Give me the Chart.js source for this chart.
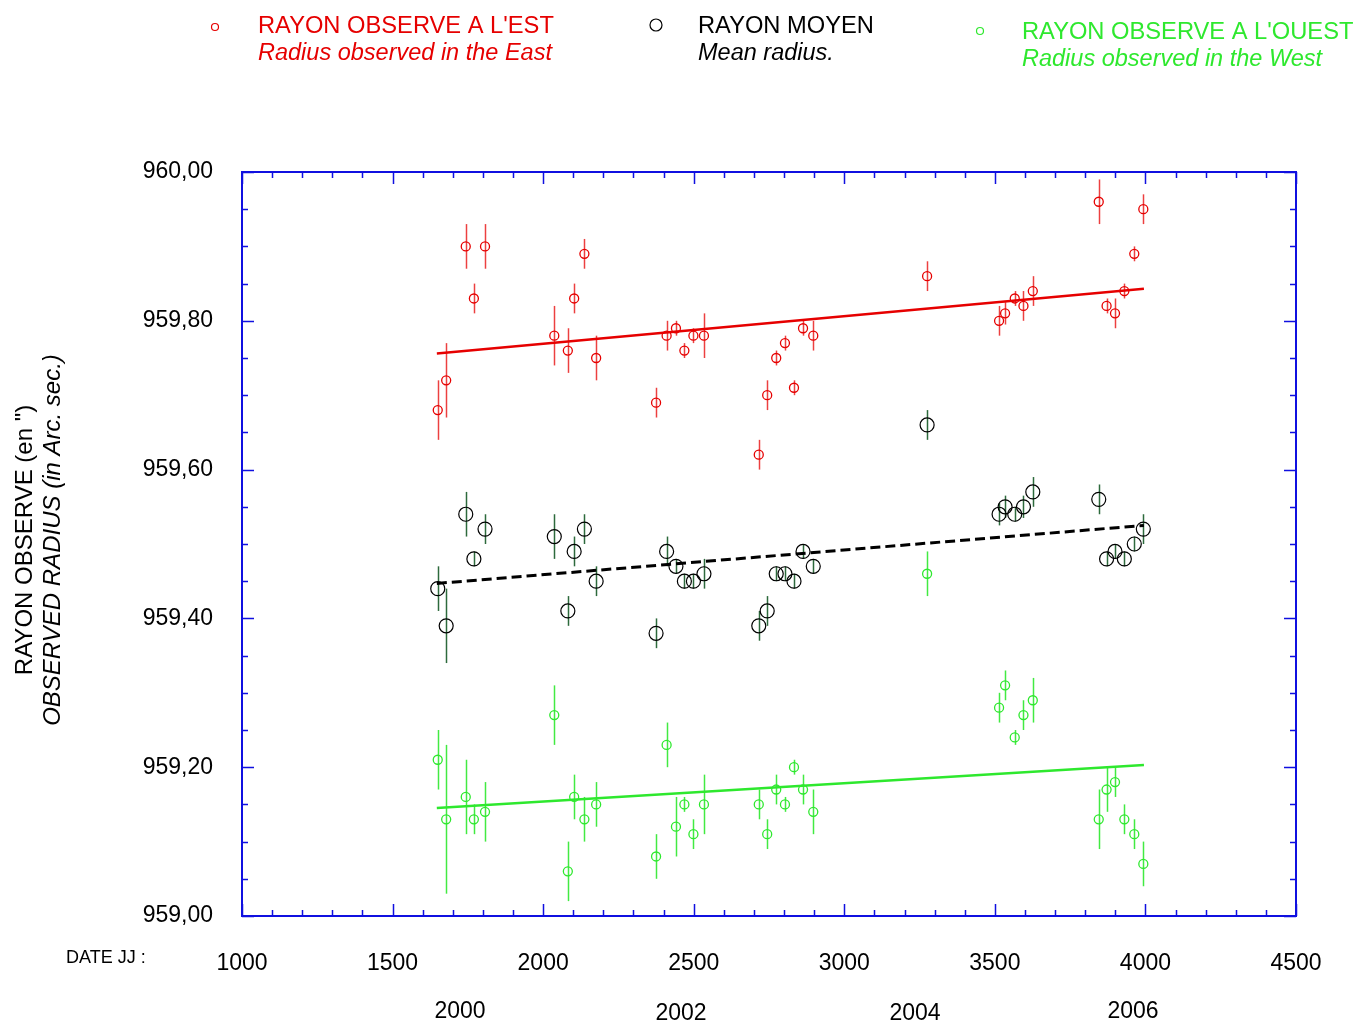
<!DOCTYPE html>
<html>
<head>
<meta charset="utf-8">
<script src="https://cdn.jsdelivr.net/npm/chart.js@4/dist/chart.umd.min.js"></script>
<style>
  body { margin: 0; background: #fff; }
  #wrap { width: 1357px; height: 1023px; }
</style>
</head>
<body>
<div id="wrap"><canvas id="radiusChart" width="1357" height="1023"></canvas></div>
<script>
// julian day offsets (JJ - 2450000) of each observation
const days = [1650, 1678, 1743, 1770, 1807, 2037, 2082, 2103, 2137, 2176,
  2375, 2410, 2441, 2469, 2499, 2534, 2716, 2744, 2774, 2803, 2833, 2863, 2897,
  3275, 3514, 3534, 3566, 3595, 3626, 3845, 3871, 3899, 3930, 3963, 3993];

const eastRadius = [959.68, 959.72, 959.90, 959.83, 959.90, 959.78, 959.76, 959.83, 959.89, 959.75,
  959.69, 959.78, 959.79, 959.76, 959.78, 959.78, 959.62, 959.70, 959.75, 959.77, 959.71, 959.79, 959.78,
  959.86, 959.80, 959.81, 959.83, 959.82, 959.84, 959.96, 959.82, 959.81, 959.84, 959.89, 959.95];
const eastErr = [0.04, 0.05, 0.03, 0.02, 0.03, 0.04, 0.03, 0.02, 0.02, 0.03,
  0.02, 0.02, 0.01, 0.01, 0.01, 0.03, 0.02, 0.02, 0.01, 0.01, 0.01, 0.01, 0.02,
  0.02, 0.02, 0.015, 0.01, 0.02, 0.02, 0.03, 0.01, 0.02, 0.01, 0.01, 0.02];

const meanRadius = [959.44, 959.39, 959.54, 959.48, 959.52, 959.51, 959.41, 959.49, 959.52, 959.45,
  959.38, 959.49, 959.47, 959.45, 959.45, 959.46, 959.39, 959.41, 959.46, 959.46, 959.45, 959.49, 959.47,
  959.66, 959.54, 959.55, 959.54, 959.55, 959.57, 959.56, 959.48, 959.49, 959.48, 959.50, 959.52];
const meanErr = [0.03, 0.05, 0.03, 0.01, 0.02, 0.03, 0.02, 0.02, 0.02, 0.02,
  0.02, 0.02, 0.01, 0.01, 0.01, 0.02, 0.02, 0.02, 0.01, 0.01, 0.01, 0.01, 0.01,
  0.02, 0.015, 0.015, 0.01, 0.015, 0.02, 0.02, 0.01, 0.01, 0.01, 0.01, 0.02];

const westRadius = [959.21, 959.13, 959.16, 959.13, 959.14, 959.27, 959.06, 959.16, 959.13, 959.15,
  959.08, 959.23, 959.12, 959.15, 959.11, 959.15, 959.15, 959.11, 959.17, 959.15, 959.20, 959.17, 959.14,
  959.46, 959.28, 959.31, 959.24, 959.27, 959.29, 959.13, 959.17, 959.18, 959.13, 959.11, 959.07];
const westErr = [0.04, 0.10, 0.05, 0.02, 0.04, 0.04, 0.04, 0.03, 0.03, 0.03,
  0.03, 0.03, 0.04, 0.01, 0.02, 0.04, 0.02, 0.02, 0.02, 0.01, 0.01, 0.02, 0.03,
  0.03, 0.02, 0.02, 0.01, 0.02, 0.03, 0.04, 0.03, 0.02, 0.02, 0.02, 0.03];

// linear fits, endpoints
const fitDays = [1647, 3995];
const eastFit = [959.756, 959.843];
const meanFit = [959.447, 959.525];
const westFit = [959.145, 959.203];

// calendar years placed along the JJ axis
const yearLabels = ["2000", "2002", "2004", "2006"];
const yearDays = [1724, 2458, 3235, 3959];

const RED = "#e60000";
const GREEN = "#2ee82e";
const BLUE = "#1010e0";
const FONT = "'Liberation Sans', Arial, sans-serif";

const pts = (xs, ys) => xs.map((x, i) => ({ x: x, y: ys[i] }));

// error bars, axis frame with inner ticks, legend block and extra labels
const decorations = {
  id: "decorations",
  beforeDatasetsDraw(chart) {
    const c = chart.ctx, xs = chart.scales.x, ys = chart.scales.y;
    const bars = [
      [eastRadius, eastErr, "rgba(230,0,0,0.75)"],
      [meanRadius, meanErr, "#2d6a3c"],
      [westRadius, westErr, "rgba(46,232,46,0.9)"]
    ];
    c.save();
    c.lineWidth = 1.5;
    bars.forEach(([vals, errs, col]) => {
      c.strokeStyle = col;
      days.forEach((d, i) => {
        const px = Math.round(xs.getPixelForValue(d)) + 0.5;
        c.beginPath();
        c.moveTo(px, ys.getPixelForValue(vals[i] + errs[i]));
        c.lineTo(px, ys.getPixelForValue(vals[i] - errs[i]));
        c.stroke();
      });
    });
    c.restore();
  },
  afterDraw(chart) {
    const c = chart.ctx, xs = chart.scales.x, ys = chart.scales.y;
    const a = chart.chartArea;
    c.save();
    // frame
    c.strokeStyle = BLUE;
    c.lineWidth = 2;
    c.strokeRect(a.left, a.top, a.right - a.left, a.bottom - a.top);
    // inner ticks
    c.lineWidth = 1.5;
    c.beginPath();
    for (let v = 1000; v <= 4500; v += 100) {
      const px = Math.round(xs.getPixelForValue(v)) + 0.5;
      const len = v % 500 === 0 ? 12 : 6;
      c.moveTo(px, a.bottom); c.lineTo(px, a.bottom - len);
      c.moveTo(px, a.top); c.lineTo(px, a.top + len);
    }
    for (let k = 0; k <= 20; k++) {
      const v = 959 + k * 0.05;
      const py = Math.round(ys.getPixelForValue(v)) + 0.5;
      const len = k % 4 === 0 ? 12 : 6;
      c.moveTo(a.left, py); c.lineTo(a.left + len, py);
      c.moveTo(a.right, py); c.lineTo(a.right - len, py);
    }
    c.stroke();

    // legend block
    const legend = [
      { x: 215, y: 27, r: 3.5, col: RED, t1: "RAYON OBSERVE A L'EST", t2: "Radius observed in the East", tx: 258, ty: 26 },
      { x: 656, y: 25, r: 6, col: "#000", t1: "RAYON MOYEN", t2: "Mean radius.", tx: 698, ty: 26 },
      { x: 980, y: 31, r: 3.5, col: GREEN, t1: "RAYON OBSERVE A L'OUEST", t2: "Radius observed in the West", tx: 1022, ty: 32 }
    ];
    c.textBaseline = "middle";
    c.textAlign = "left";
    legend.forEach(l => {
      c.strokeStyle = l.col;
      c.lineWidth = 1.2;
      c.beginPath();
      c.arc(l.x, l.y, l.r, 0, Math.PI * 2);
      c.stroke();
      c.fillStyle = l.col;
      c.font = "23.7px " + FONT;
      c.fillText(l.t1, l.tx, l.ty);
      c.font = "italic 23.5px " + FONT;
      c.fillText(l.t2, l.tx, l.ty + 27);
    });

    // y axis title
    c.fillStyle = "#000";
    c.textAlign = "center";
    c.save();
    c.translate(25, 540);
    c.rotate(-Math.PI / 2);
    c.font = "24px " + FONT;
    c.fillText("RAYON OBSERVE (en \")", 0, 0);
    c.font = "italic 24px " + FONT;
    c.fillText("OBSERVED RADIUS (in Arc. sec.)", 0, 28);
    c.restore();

    // x axis caption and year labels
    c.font = "18px " + FONT;
    c.textAlign = "left";
    c.fillText("DATE JJ :", 66, 958);
    c.font = "23px " + FONT;
    c.textAlign = "center";
    yearLabels.forEach((t, i) => {
      c.fillText(t, xs.getPixelForValue(yearDays[i]), 1012 + (i === 1 || i === 2 ? 2 : 0));
    });
    c.restore();
  }
};

const ctx = document.getElementById("radiusChart").getContext("2d");

const radiusChart = new Chart(ctx, {
  type: "scatter",
  data: {
    datasets: [
      { type: "line", data: pts(fitDays, eastFit), borderColor: RED, borderWidth: 2.5, pointRadius: 0, fill: false },
      { type: "line", data: pts(fitDays, meanFit), borderColor: "#000", borderWidth: 3, borderDash: [10, 5], pointRadius: 0, fill: false },
      { type: "line", data: pts(fitDays, westFit), borderColor: GREEN, borderWidth: 2.5, pointRadius: 0, fill: false },
      { label: "RAYON OBSERVE A L'EST", data: pts(days, eastRadius), borderColor: RED, backgroundColor: "rgba(0,0,0,0)", pointRadius: 4.5, borderWidth: 1.3 },
      { label: "RAYON MOYEN", data: pts(days, meanRadius), borderColor: "#000", backgroundColor: "rgba(0,0,0,0)", pointRadius: 7, borderWidth: 1.2 },
      { label: "RAYON OBSERVE A L'OUEST", data: pts(days, westRadius), borderColor: GREEN, backgroundColor: "rgba(0,0,0,0)", pointRadius: 4.5, borderWidth: 1.3 }
    ]
  },
  options: {
    responsive: false,
    animation: false,
    devicePixelRatio: 1,
    layout: { padding: { top: 172, right: 61, left: 0, bottom: 0 } },
    plugins: { legend: { display: false }, tooltip: { enabled: false } },
    scales: {
      x: {
        type: "linear",
        min: 1000,
        max: 4500,
        grid: { display: false, drawTicks: false },
        border: { display: false },
        ticks: {
          stepSize: 500,
          padding: 34,
          color: "#000",
          maxRotation: 0,
          font: { size: 23, family: FONT },
          callback: v => String(v)
        },
        afterFit: s => { s.height = 107; }
      },
      y: {
        min: 959,
        max: 960,
        grid: { display: false, drawTicks: false },
        border: { display: false },
        ticks: {
          stepSize: 0.2,
          padding: 29,
          color: "#000",
          font: { size: 23, family: FONT },
          callback: v => v.toFixed(2).replace(".", ",")
        },
        afterFit: s => { s.width = 242; }
      }
    }
  },
  plugins: [decorations]
});
</script>
</body>
</html>
